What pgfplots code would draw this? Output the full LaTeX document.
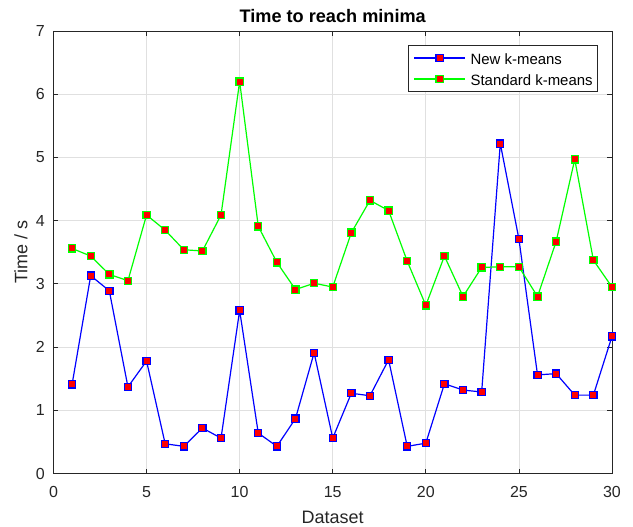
\documentclass[border=0pt]{standalone}
\usepackage{pgfplots}
\pgfplotsset{compat=1.18}
\usepackage{fontspec}
\setmainfont{Liberation Sans}
\definecolor{axgray}{RGB}{38,38,38}
\definecolor{gridgray}{RGB}{224,224,224}
\begin{document}
\begin{tikzpicture}
\useasboundingbox (-40.1pt,-40.1pt) rectangle (434.65pt,355.15pt);
\begin{axis}[
  width=418.9pt, height=331.9pt, scale only axis,
  xmin=0, xmax=30, ymin=0, ymax=7,
  xtick={0,5,...,30}, ytick={0,1,...,7},
  grid=major, major grid style={gridgray, line width=0.6pt},
  axis line style={axgray, line width=0.6pt},
  tick style={axgray, line width=0.6pt}, tick align=inside,
  major tick length=3.5pt,
  ticklabel style={font=\fontsize{12}{14}\selectfont, text=axgray, inner sep=0pt},
  xticklabel style={anchor=north, yshift=-9.2pt},
  yticklabel style={anchor=east, xshift=-6.4pt},
  /pgf/number format/assume math mode=true,
  xlabel={Dataset}, ylabel={Time / s},
  label style={font=\fontsize{13.5}{15}\selectfont, text=axgray, inner sep=0pt},
  xlabel style={at={(axis description cs:0.5,0)}, anchor=base, yshift=-37.4pt},
  ylabel style={at={([xshift=-19.6pt]axis description cs:0,0.5)}, anchor=base},
  title={Time to reach minima},
  title style={font=\fontsize{13.6}{15}\selectfont\bfseries, inner sep=0pt,
    at={(axis description cs:0.5,1)}, anchor=base, yshift=0.2pt},
  legend style={at={(rel axis cs:0.975,0.968)}, anchor=north east,
    draw=axgray, line width=0.6pt, font=\fontsize{11.2}{13}\selectfont,
    inner xsep=3.75pt, inner ysep=1.5pt, row sep=0pt, column sep=3.75pt,
    nodes={inner xsep=0pt, inner ysep=0pt, text height=12.6pt, text depth=3.15pt},
    cells={anchor=west}},
  legend image code/.code={
    \draw[mark repeat=2, mark phase=2, #1] plot coordinates {(0pt,0pt) (19pt,0pt) (38pt,0pt)};
  },
]
\addplot[color=blue, line width=0.9pt, mark=square*, mark size=2.7pt,
  mark options={draw=blue, fill=red, line width=0.9pt, solid}] coordinates {
(1,1.41) (2,3.13) (3,2.89) (4,1.37) (5,1.78) (6,0.47) (7,0.43) (8,0.72) (9,0.56) (10,2.58)
(11,0.64) (12,0.43) (13,0.87) (14,1.91) (15,0.56) (16,1.27) (17,1.23) (18,1.80) (19,0.43) (20,0.48)
(21,1.42) (22,1.32) (23,1.29) (24,5.22) (25,3.71) (26,1.56) (27,1.58) (28,1.24) (29,1.24) (30,2.17)
};
\addlegendentry{New k-means}
\addplot[color=green, line width=0.9pt, mark=square*, mark size=2.7pt,
  mark options={draw=green, fill=red, line width=0.9pt, solid}] coordinates {
(1,3.56) (2,3.44) (3,3.15) (4,3.05) (5,4.09) (6,3.85) (7,3.54) (8,3.52) (9,4.09) (10,6.20)
(11,3.91) (12,3.34) (13,2.91) (14,3.01) (15,2.95) (16,3.81) (17,4.32) (18,4.16) (19,3.36) (20,2.66)
(21,3.44) (22,2.80) (23,3.26) (24,3.27) (25,3.27) (26,2.80) (27,3.67) (28,4.97) (29,3.375) (30,2.95)
};
\addlegendentry{Standard k-means}
\end{axis}
\end{tikzpicture}
\end{document}
